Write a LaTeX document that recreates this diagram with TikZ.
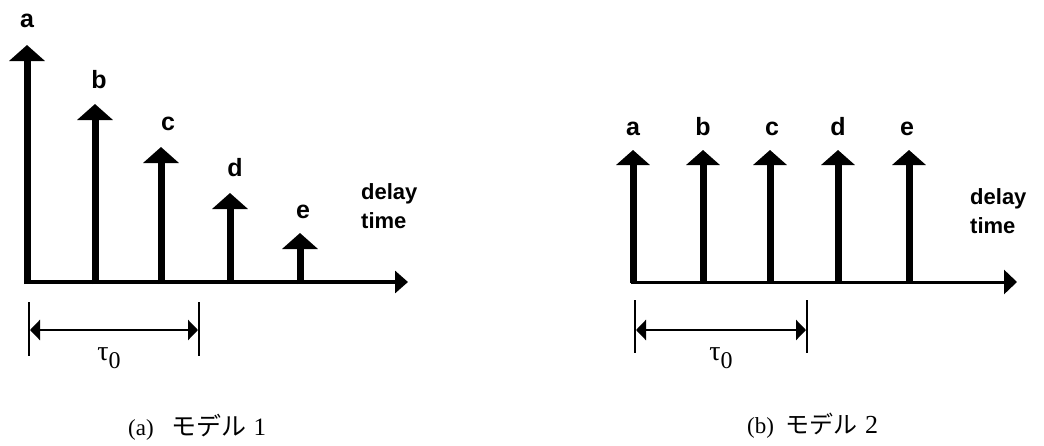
\documentclass[tikz,border=0pt]{standalone}
\usepackage{fontspec}
\setmainfont{Liberation Serif}
\setsansfont{Liberation Sans}
\newfontfamily\jpfont{Noto Sans CJK JP}
\usetikzlibrary{arrows.meta}
\begin{document}
\begin{tikzpicture}[x=1pt,y=-1pt,
  stem/.style={line width=7pt,-{Triangle[width=35pt,length=16pt]}},
  stemb/.style={line width=7pt,-{Triangle[width=33pt,length=15pt]}},
  axisl/.style={line width=4.5pt,-{Triangle[width=22pt,length=13pt]}},
  axisr/.style={line width=3pt,-{Triangle[width=24pt,length=13pt]}},
  dimarrow/.style={line width=2.5pt,{Triangle[width=20pt,length=10pt]}-{Triangle[width=20pt,length=10pt]}},
  tickline/.style={line width=2pt},
  lab/.style={font=\sffamily\bfseries\fontsize{25}{28}\selectfont,inner sep=0pt,anchor=base},
  dlab/.style={font=\sffamily\bfseries\fontsize{22}{29}\selectfont,inner sep=0pt,anchor=base west,align=left},
  taulab/.style={font=\fontsize{28}{32}\selectfont,inner sep=0pt,anchor=base},
  caplab/.style={font=\fontsize{23}{26}\selectfont,inner sep=0pt,anchor=base west}]
\useasboundingbox (0,0) rectangle (1044,445);
% ---------- left panel (a) ----------
\coordinate (LO) at (24,282);
\coordinate (LE) at (408,282);
\draw[axisl] (LO) -- (LE);
\foreach \n/\x/\t in {a/27/45,b/95/104,c/161/147,d/230/193,e/300/233}{
  \coordinate (La\n) at (\x,284);
  \coordinate (Lt\n) at (\x,\t);
  \draw[stem] (La\n) -- (Lt\n);
}
\node[lab] (LLa) at (27,27) {a};
\node[lab] (LLb) at (99,88) {b};
\node[lab] (LLc) at (168,130) {c};
\node[lab] (LLd) at (235,176) {d};
\node[lab] (LLe) at (303,218) {e};
\node[dlab] (Ldel) at (361,228) {delay\\time};
% tau bracket
\coordinate (Lk1t) at (29,302); \coordinate (Lk1b) at (29,356);
\coordinate (Lk2t) at (199,302); \coordinate (Lk2b) at (199,356);
\draw[tickline] (Lk1t) -- (Lk1b);
\draw[tickline] (Lk2t) -- (Lk2b);
\coordinate (Ld1) at (30,330); \coordinate (Ld2) at (198,330);
\draw[dimarrow] (Ld1) -- (Ld2);
\node[taulab] (Ltau) at (109,360) {τ\raisebox{-8pt}{\fontsize{24}{26}\selectfont 0}};
\node[caplab] (Lcap) at (128,435) {(a)\hspace{18pt}{\jpfont\fontsize{25}{26}\selectfont モデル}\hspace{7pt}{\fontsize{25}{26}\selectfont 1}};
% ---------- right panel (b) ----------
\coordinate (RO) at (631,282);
\coordinate (RE) at (1017,282);
\draw[axisr] (RO) -- (RE);
\foreach \n/\x in {a/633,b/703,c/770,d/838,e/909}{
  \coordinate (Ra\n) at (\x,283);
  \coordinate (Rt\n) at (\x,150);
  \draw[stemb] (Ra\n) -- (Rt\n);
}
\node[lab] (RLa) at (633,135) {a};
\node[lab] (RLb) at (703,135) {b};
\node[lab] (RLc) at (772,135) {c};
\node[lab] (RLd) at (838,135) {d};
\node[lab] (RLe) at (907,135) {e};
\node[dlab] (Rdel) at (970,233) {delay\\time};
\coordinate (Rk1t) at (635,300); \coordinate (Rk1b) at (635,353);
\coordinate (Rk2t) at (807,300); \coordinate (Rk2b) at (807,353);
\draw[tickline] (Rk1t) -- (Rk1b);
\draw[tickline] (Rk2t) -- (Rk2b);
\coordinate (Rd1) at (636,330); \coordinate (Rd2) at (806,330);
\draw[dimarrow] (Rd1) -- (Rd2);
\node[taulab] (Rtau) at (721,360) {τ\raisebox{-8pt}{\fontsize{24}{26}\selectfont 0}};
\node[caplab] (Rcap) at (747,433) {(b)\hspace{11pt}{\jpfont\fontsize{24}{26}\selectfont モデル}\hspace{8pt}{\fontsize{26}{26}\selectfont 2}};
\end{tikzpicture}
\end{document}
